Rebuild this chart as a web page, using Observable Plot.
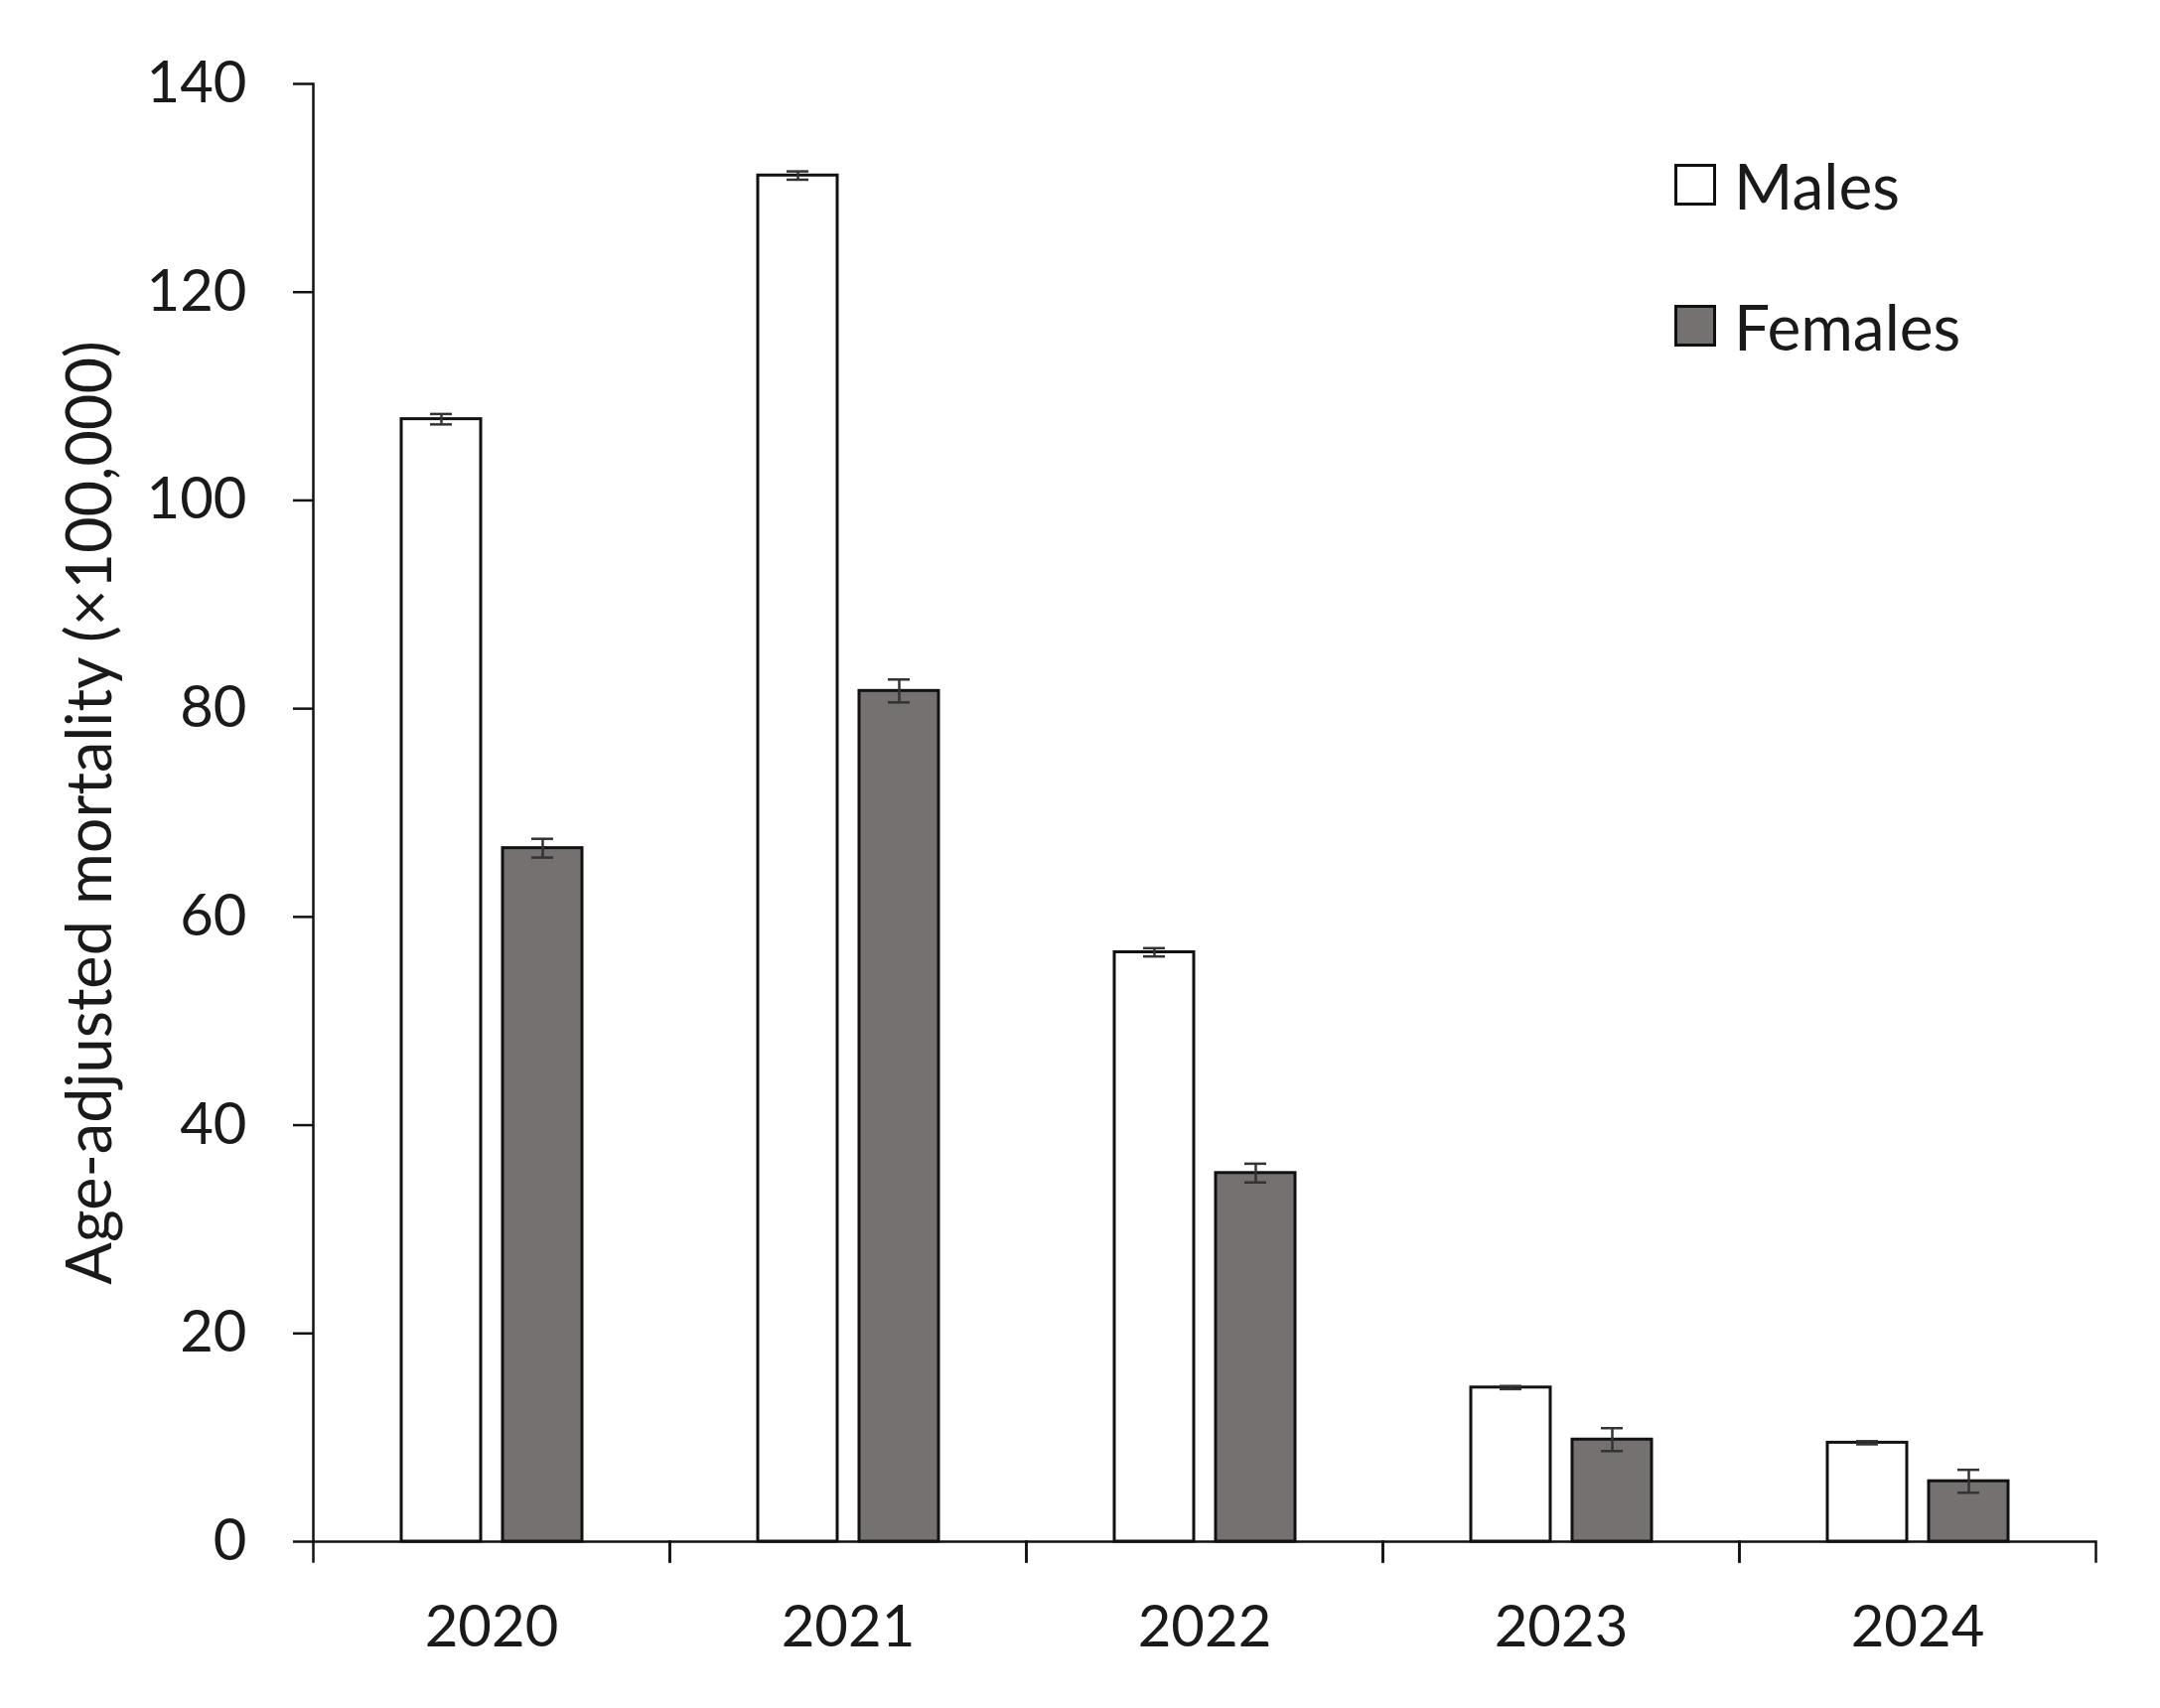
<!DOCTYPE html>
<html>
<head>
<meta charset="utf-8">
<script src="https://cdn.jsdelivr.net/npm/d3@7"></script>
<script src="https://cdn.jsdelivr.net/npm/@observablehq/plot@0.6"></script>
<style>
  html, body { margin: 0; padding: 0; background: white; }
  #wrap { position: relative; width: 2175px; height: 1720px; }
  #legend { position: absolute; left: 1686px; top: 115px; font-family: Lato, sans-serif; font-size: 64px; color: #1a1a1a; }
  .item { display: flex; align-items: center; height: 142px; }
  .sw { width: 36px; height: 36px; border: 3px solid #111; margin-right: 18px; box-sizing: content-box; }
</style>
</head>
<body>
<div id="wrap"></div>
<script>
// ---- data ----
const years = ["2020", "2021", "2022", "2023", "2024"];
const sexes = ["Males", "Females"];
const males = [107.8, 131.2, 56.6, 14.8, 9.5];
const malesErr = [0.5, 0.4, 0.4, 0.15, 0.15];
const females = [66.6, 81.7, 35.4, 9.8, 5.8];
const femalesErr = [0.9, 1.1, 0.9, 1.1, 1.1];
const yTicks = [0, 20, 40, 60, 80, 100, 120, 140];
const yLabel = "Age-adjusted mortality (×100,000)";
const colors = ["white", "#767171"];

const rows = [];
years.forEach((yr, i) => {
  rows.push({year: yr, sex: sexes[0], value: males[i], err: malesErr[i]});
  rows.push({year: yr, sex: sexes[1], value: females[i], err: femalesErr[i]});
});

const W = 2175, H = 1720;
const mL = 313, mR = 64, mT = 84, mB = 168;
const innerH = H - mT - mB;
const axisColor = "#111";

const chart = Plot.plot({
  width: W,
  height: H,
  marginLeft: mL,
  marginRight: mR,
  marginTop: mT,
  marginBottom: mB,
  style: {fontFamily: "Lato, sans-serif", fontSize: "58px", color: "#1a1a1a", background: "white", overflow: "visible"},
  fx: {domain: years, padding: 0, label: null, tickSize: 0, tickPadding: 64, axis: "bottom"},
  x: {domain: sexes, paddingInner: 0.216, paddingOuter: 0.865, axis: null},
  y: {domain: [0, 140]},
  color: {domain: sexes, range: colors},
  marks: [
    Plot.axisY({ticks: yTicks, tickSize: 20, tickPadding: 47, label: null, fontSize: 58, stroke: axisColor, strokeWidth: 2.5}),
    Plot.axisY({ticks: [], label: yLabel, labelAnchor: "center", labelArrow: "none", labelOffset: 248, fontSize: 63}),
    Plot.barY(rows, {fx: "year", x: "sex", y: "value", fill: "sex", stroke: "#111", strokeWidth: 3}),
    Plot.ruleX(rows, {fx: "year", x: "sex", y1: d => d.value - d.err, y2: d => d.value + d.err, stroke: "#333", strokeWidth: 2.5}),
    Plot.tickY(rows, {fx: "year", x: "sex", y: d => d.value - d.err, insetLeft: 29, insetRight: 29, stroke: "#333", strokeWidth: 2.5}),
    Plot.tickY(rows, {fx: "year", x: "sex", y: d => d.value + d.err, insetLeft: 29, insetRight: 29, stroke: "#333", strokeWidth: 2.5}),
    Plot.ruleY([0], {stroke: axisColor, strokeWidth: 2.5}),
    Plot.frame({anchor: "left", facetAnchor: "left", stroke: axisColor, strokeWidth: 2.5}),
    Plot.frame({anchor: "left", insetTop: innerH, insetBottom: -20, stroke: axisColor, strokeWidth: 2.5}),
    Plot.frame({anchor: "right", insetTop: innerH, insetBottom: -20, stroke: axisColor, strokeWidth: 2.5})
  ]
});

const wrap = document.getElementById("wrap");
wrap.appendChild(chart);

const legend = document.createElement("div");
legend.id = "legend";
sexes.forEach((s, i) => {
  const item = document.createElement("div");
  item.className = "item";
  const sw = document.createElement("div");
  sw.className = "sw";
  sw.style.background = colors[i];
  const t = document.createElement("span");
  t.textContent = s;
  item.appendChild(sw);
  item.appendChild(t);
  legend.appendChild(item);
});
wrap.appendChild(legend);
</script>
</body>
</html>
